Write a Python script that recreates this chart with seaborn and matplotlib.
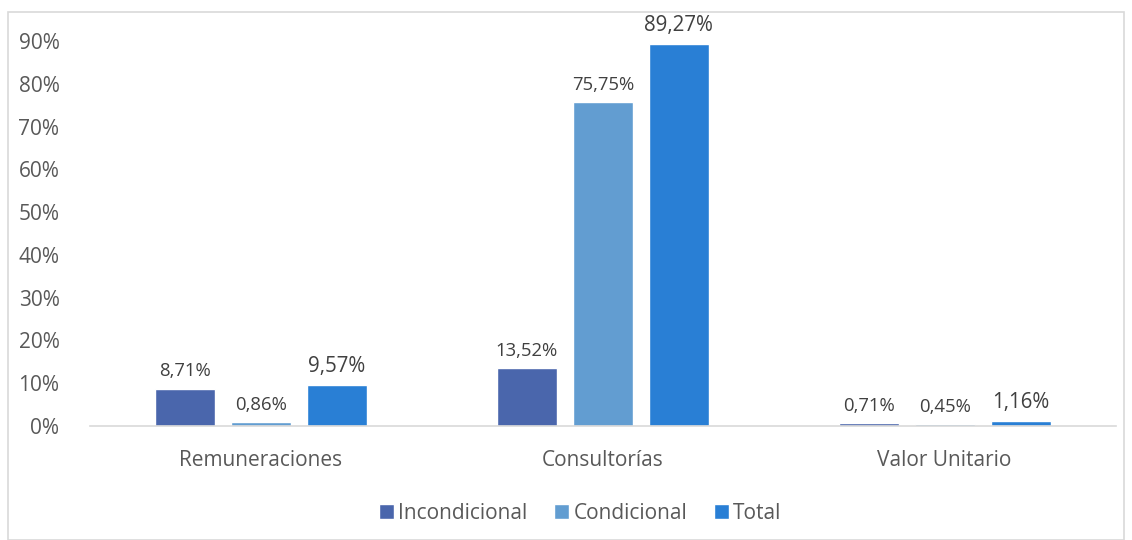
import matplotlib
matplotlib.use("Agg")
import matplotlib.pyplot as plt
import seaborn as sns
import pandas as pd
from matplotlib.patches import Rectangle

categories = ["Remuneraciones", "Consultorías", "Valor Unitario"]
series = ["Incondicional", "Condicional", "Total"]
incondicional = [8.71, 13.52, 0.71]
condicional = [0.86, 75.75, 0.45]
total = [9.57, 89.27, 1.16]
colors = ["#4A66AC", "#629DD1", "#297FD5"]
yticks = [0, 10, 20, 30, 40, 50, 60, 70, 80, 90]

rows = []
for s, vals in zip(series, [incondicional, condicional, total]):
    for c, v in zip(categories, vals):
        rows.append({"cat": c, "serie": s, "val": v})
df = pd.DataFrame(rows)

sns.set_theme(style="white")
plt.rcParams['font.family'] = ['Open Sans', 'DejaVu Sans']

fig = plt.figure(figsize=(11.32, 5.4), dpi=100)
ax = fig.add_axes([0.0795, 0.211, 0.906, 0.713])

sns.barplot(data=df, x="cat", y="val", hue="serie", palette=colors,
            hue_order=series, order=categories, width=0.667, gap=0.21,
            ax=ax, saturation=1)

ax.set_xlim(-0.5, 2.5)
ax.set_ylim(0, 90)
ax.set_yticks(yticks)
ax.set_yticklabels([f"{t}%" for t in yticks], fontsize=15, color="#595959")
ax.tick_params(axis="x", labelsize=15, colors="#595959", length=0, pad=17)
ax.tick_params(axis="y", length=0, pad=22)
ax.set_xlabel("")
ax.set_ylabel("")
for sp in ["top", "right", "left"]:
    ax.spines[sp].set_visible(False)
ax.spines["bottom"].set_color("#D9D9D9")
ax.spines["bottom"].set_linewidth(1.2)

for i, cont in enumerate(ax.containers):
    labels = [f"{v:.2f}%".replace(".", ",") for v in cont.datavalues]
    fs = 14.8 if i == 2 else 13.3
    ax.bar_label(cont, labels=labels, padding=6, fontsize=fs, color="#404040")

leg = ax.legend(loc="upper center", bbox_to_anchor=(0.478, -0.15), ncol=3,
                frameon=False, fontsize=15, handlelength=0.72, handleheight=0.72,
                handletextpad=0.2, columnspacing=1.3)
for t in leg.get_texts():
    t.set_color("#595959")

fig.patches.append(Rectangle((8/1132, 0), 1 - 16/1132, 1 - 12/540,
                             transform=fig.transFigure, fill=False,
                             edgecolor="#D9D9D9", linewidth=1.2))

fig.savefig("out.png", dpi=100)
